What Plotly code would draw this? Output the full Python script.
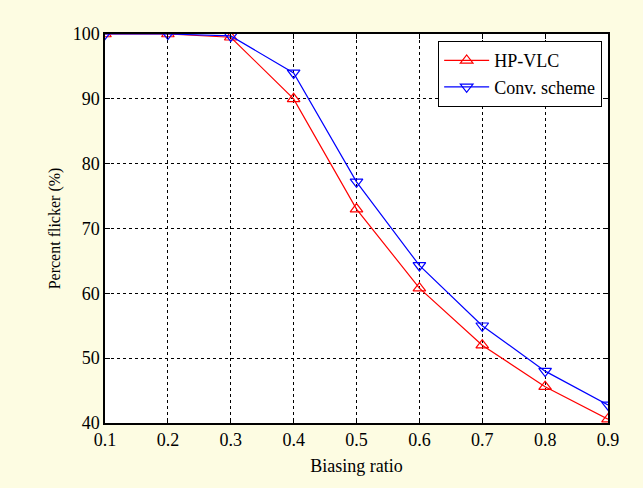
import plotly.graph_objects as go

biasing_ratio = [0.1, 0.2, 0.3, 0.4, 0.5, 0.6, 0.7, 0.8, 0.9]
hp_vlc = [100, 100, 99.5, 90, 73, 60.8, 52, 45.6, 40.6]
conv_scheme = [100, 100, 99.7, 94, 77.2, 64.3, 55, 48, 42.8]

x_ticks = [0.1, 0.2, 0.3, 0.4, 0.5, 0.6, 0.7, 0.8, 0.9]
y_ticks = [40, 50, 60, 70, 80, 90, 100]

font = "Liberation Serif, Times New Roman, serif"
fig = go.Figure()
fig.add_trace(go.Scatter(
    x=biasing_ratio, y=hp_vlc, name="HP-VLC", mode="lines+markers",
    line=dict(color="#ff0000", width=1.2),
    marker=dict(symbol="triangle-up-open", size=11, color="#ff0000", line=dict(width=1.2)),
))
fig.add_trace(go.Scatter(
    x=biasing_ratio, y=conv_scheme, name="Conv. scheme", mode="lines+markers",
    line=dict(color="#0000ff", width=1.2),
    marker=dict(symbol="triangle-down-open", size=11, color="#0000ff", line=dict(width=1.2)),
))

axis_common = dict(
    showline=True, linecolor="black", linewidth=1.5, mirror="ticks",
    ticks="inside", ticklen=5, tickcolor="black",
    showgrid=True, gridcolor="black", griddash="dot", gridwidth=1,
    zeroline=False, tickfont=dict(family=font, size=18, color="black"),
)
fig.update_xaxes(range=[0.1, 0.9], tickvals=x_ticks, ticktext=[f"{v:.1f}" for v in x_ticks],
                 title=dict(text="Biasing ratio", font=dict(family=font, size=18, color="black"), standoff=10),
                 **axis_common)
fig.update_yaxes(range=[40, 100], tickvals=y_ticks,
                 title=dict(text="Percent flicker (%)", font=dict(family=font, size=16, color="black"), standoff=8),
                 **axis_common)

fig.update_layout(
    width=643, height=488,
    margin=dict(l=105, r=35, t=34, b=65),
    paper_bgcolor="#fdfce2", plot_bgcolor="white",
    font=dict(family=font, size=16, color="black"),
    legend=dict(x=0.988, y=0.982, xanchor="right", yanchor="top",
                bgcolor="white", bordercolor="black", borderwidth=1.2,
                font=dict(family=font, size=18, color="black"),
                tracegroupgap=0, itemwidth=45),
    showlegend=True,
)
fig.write_html("out.html")
